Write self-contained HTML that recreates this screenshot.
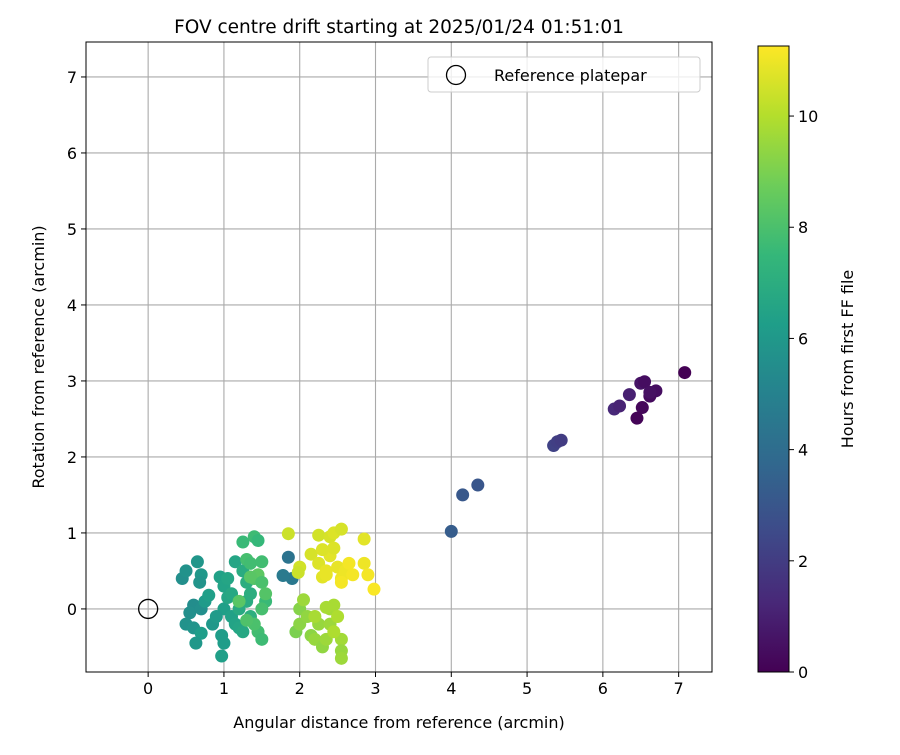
<!DOCTYPE html>
<html><head><meta charset="utf-8"><style>
body{margin:0;background:#fff;font-family:"Liberation Sans","DejaVu Sans",sans-serif}
svg text{font-family:"DejaVu Sans","Liberation Sans",sans-serif;fill:#000}
</style></head><body>
<svg id="c" width="900" height="750" xmlns="http://www.w3.org/2000/svg"></svg>
<script>
const xs=[7.08,6.7,6.35,6.5,6.15,6.22,6.55,6.62,6.52,6.45,6.62,5.35,5.4,5.45,4.35,4.15,4.0,1.85,1.9,1.78,
0.45,0.5,0.6,0.55,0.5,0.6,0.65,0.7,0.68,0.7,0.63,0.7,0.75,0.8,0.85,0.95,0.97,0.97,1.0,1.0,1.05,1.0,1.05,0.9,1.1,1.1,1.15,1.2,1.25,1.2,1.3,1.15,1.25,1.3,1.35,1.35,
1.25,1.3,1.35,1.4,1.45,1.5,1.4,1.45,1.35,1.5,1.55,1.5,1.45,1.5,1.4,1.3,1.2,1.55,
1.95,2.0,2.0,2.05,2.1,2.15,2.2,2.25,2.3,2.35,2.4,2.45,2.4,2.5,2.55,2.55,2.55,2.35,2.45,2.2,
1.85,2.25,2.4,2.45,2.55,2.85,2.0,1.98,2.15,2.25,2.3,2.35,2.4,2.45,2.5,2.55,2.6,2.65,2.7,2.85,2.9,2.98,2.35,2.55,2.3];
const ys=[3.11,2.87,2.82,2.97,2.63,2.67,2.99,2.8,2.65,2.51,2.85,2.15,2.2,2.22,1.63,1.5,1.02,0.68,0.4,0.44,
0.4,0.5,0.05,-0.05,-0.2,-0.25,0.62,0.45,0.35,-0.32,-0.45,0.0,0.1,0.18,-0.2,0.42,-0.35,-0.62,-0.45,0.3,0.4,0.0,0.15,-0.1,-0.1,0.2,-0.2,-0.25,-0.3,0.0,0.1,0.62,0.5,0.35,-0.1,0.2,
0.88,0.65,0.6,0.95,0.9,0.62,0.4,0.45,0.42,0.35,0.1,0.0,-0.3,-0.4,-0.2,-0.15,0.1,0.2,
-0.3,-0.2,0.0,0.12,-0.1,-0.35,-0.4,-0.2,-0.5,-0.4,0.0,0.05,-0.2,-0.1,-0.4,-0.55,-0.65,0.02,-0.3,-0.1,
0.99,0.97,0.95,1.0,1.05,0.92,0.55,0.48,0.72,0.6,0.42,0.5,0.7,0.8,0.55,0.4,0.5,0.6,0.45,0.6,0.45,0.26,0.45,0.35,0.78];
const hours=[0,0.4,1,0.6,1.3,1.1,0.4,0.3,0.2,0.1,0.5,2.2,2.1,2.0,3.0,3.1,3.3,4.3,4.5,4.6,
5.6,5.7,5.5,5.6,5.7,5.8,5.9,6.0,5.8,6.2,6.0,5.6,6.1,6.3,6.0,6.4,6.2,6.3,6.2,6.5,6.6,6.3,6.6,6.1,6.4,6.7,6.5,6.6,6.7,6.8,6.9,6.6,6.9,7.0,7.1,7.0,
7.6,7.9,7.8,7.7,7.5,7.8,8.2,8.4,8.3,8.0,7.6,7.9,7.8,7.7,8.0,8.1,8.3,8.2,
9.0,9.3,9.2,9.6,9.4,9.3,9.5,9.5,9.4,9.6,9.7,9.8,9.6,9.9,9.7,9.5,9.6,9.8,9.9,9.8,
10.4,10.5,10.6,10.7,10.6,10.8,10.5,10.4,10.6,10.7,10.8,10.9,10.8,10.7,10.9,11.0,11.0,11.1,11.1,11.0,11.1,11.2,10.9,11.1,10.7];
const xTicks=[0,1,2,3,4,5,6,7], yTicks=[0,1,2,3,4,5,6,7], cTicks=[0,2,4,6,8,10];
const L=86,R=712,T=42,B=672, x0=-0.82,x1=7.44,y0=-0.83,y1=7.46, cmax=11.26;
const X=v=>L+(v-x0)/(x1-x0)*(R-L), Y=v=>B-(v-y0)/(y1-y0)*(B-T);
const vir=[[68,1,84],[72,40,120],[62,74,137],[49,104,142],[38,130,142],[31,158,137],[53,183,121],[109,205,89],[180,222,44],[253,231,37]];
function col(h){let t=Math.max(0,Math.min(1,h/cmax))*9,i=Math.min(8,Math.floor(t)),f=t-i,a=vir[i],b=vir[i+1];
return `rgb(${a.map((v,k)=>Math.round(v+(b[k]-v)*f)).join(',')})`;}
const s=document.getElementById('c');const NS='http://www.w3.org/2000/svg';
function el(t,a,p){const e=document.createElementNS(NS,t);for(const k in a)e.setAttribute(k,a[k]);(p||s).appendChild(e);return e;}
let e;
xTicks.forEach(v=>{e=el('line',{x1:X(v),x2:X(v),y1:T,y2:B,stroke:'#aaaaaa','stroke-width':1.1});


el('line',{x1:X(v),x2:X(v),y1:B,y2:B+5,stroke:'#000'});
e=el('text',{x:X(v),y:B+22,'text-anchor':'middle','font-size':16});e.textContent=v;

});
yTicks.forEach(v=>{e=el('line',{x1:L,x2:R,y1:Y(v),y2:Y(v),stroke:'#aaaaaa','stroke-width':1.1});


el('line',{x1:L-5,x2:L,y1:Y(v),y2:Y(v),stroke:'#000'});
e=el('text',{x:L-9,y:Y(v)+6,'text-anchor':'end','font-size':16});e.textContent=v;

});
xs.forEach((v,i)=>{e=el('circle',{cx:X(v),cy:Y(ys[i]),r:6.5,fill:col(hours[i])});

});
e=el('circle',{cx:X(0),cy:Y(0),r:9.5,fill:'none',stroke:'#000','stroke-width':1.3});


el('rect',{x:L,y:T,width:R-L,height:B-T,fill:'none',stroke:'#000','stroke-width':1});
e=el('rect',{x:428,y:57,width:272,height:35,rx:3,fill:'#fff','fill-opacity':0.8,stroke:'#ccc'});


el('circle',{cx:456,cy:75,r:9.5,fill:'none',stroke:'#000','stroke-width':1.3});
e=el('text',{x:494,y:81,'font-size':16});e.textContent='Reference platepar';


e=el('text',{x:399,y:33,'text-anchor':'middle','font-size':18.5});e.textContent='FOV centre drift starting at 2025/01/24 01:51:01';


e=el('text',{x:399,y:728,'text-anchor':'middle','font-size':16});e.textContent='Angular distance from reference (arcmin)';


e=el('text',{x:0,y:0,'text-anchor':'middle','font-size':16,transform:`translate(44,357) rotate(-90)`});e.textContent='Rotation from reference (arcmin)';


const cL=758,cR=789,cT=46,cB=672;
const g=el('linearGradient',{id:'vg',x1:0,y1:1,x2:0,y2:0},el('defs',{}));
vir.forEach((c,i)=>el('stop',{offset:i/9,'stop-color':`rgb(${c})`},g));
e=el('rect',{x:cL,y:cT,width:cR-cL,height:cB-cT,fill:'url(#vg)',stroke:'#000','stroke-width':1});


const CY=v=>cB-v/cmax*(cB-cT);
cTicks.forEach(v=>{el('line',{x1:cR,x2:cR+5,y1:CY(v),y2:CY(v),stroke:'#000'});
e=el('text',{x:cR+9,y:CY(v)+6,'font-size':16});e.textContent=v;

});
e=el('text',{x:0,y:0,'text-anchor':'middle','font-size':16,transform:`translate(853,359) rotate(-90)`});e.textContent='Hours from first FF file';


</script>
</body></html>
